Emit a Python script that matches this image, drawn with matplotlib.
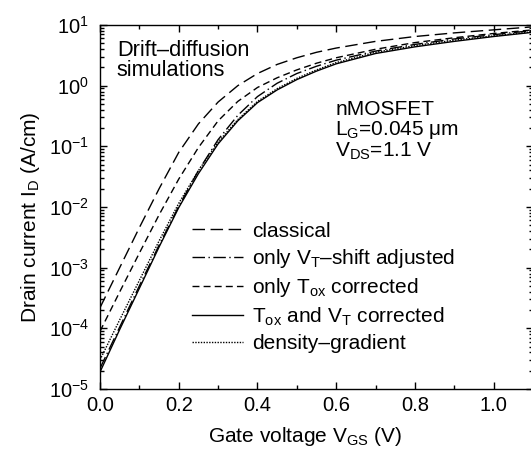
import numpy as np
import matplotlib
matplotlib.use('Agg')
import matplotlib.pyplot as plt

plt.rcParams['font.family'] = ['Liberation Sans', 'DejaVu Sans']
plt.rcParams['mathtext.fontset'] = 'custom'
plt.rcParams['mathtext.rm'] = 'Liberation Sans'
plt.rcParams['mathtext.it'] = 'Liberation Sans:italic'
plt.rcParams['mathtext.default'] = 'regular'

# gate voltage (V)
vgs = [0.0, 0.05, 0.1, 0.15, 0.2, 0.25, 0.3, 0.35, 0.4, 0.45, 0.5, 0.55, 0.6, 0.7, 0.8, 0.9, 1.0, 1.1]
# log10 of drain current (A/cm)
log_classical = [-3.66, -3.00, -2.34, -1.70, -1.10, -0.63, -0.27, 0.00, 0.20, 0.35, 0.46, 0.55, 0.62, 0.73, 0.81, 0.87, 0.92, 0.97]
log_vt_only = [-4.66, -3.98, -3.30, -2.63, -1.99, -1.40, -0.89, -0.49, -0.18, 0.04, 0.20, 0.32, 0.42, 0.57, 0.68, 0.77, 0.84, 0.91]
log_tox_only = [-4.05, -3.40, -2.76, -2.13, -1.54, -1.02, -0.58, -0.26, -0.03, 0.13, 0.26, 0.37, 0.46, 0.60, 0.71, 0.79, 0.86, 0.92]
log_tox_vt = [-4.72, -4.02, -3.34, -2.66, -2.01, -1.45, -0.96, -0.58, -0.28, -0.07, 0.10, 0.24, 0.36, 0.53, 0.64, 0.73, 0.81, 0.88]
log_dg = [-4.52, -3.86, -3.21, -2.56, -1.94, -1.40, -0.93, -0.56, -0.26, -0.05, 0.12, 0.26, 0.38, 0.55, 0.66, 0.75, 0.82, 0.89]

labels = ['classical', 'only V$_{\\mathregular{T}}$\u2013shift adjusted', 'only T$_{\\mathregular{ox}}$ corrected',
          'T$_{\\mathregular{ox}}$ and V$_{\\mathregular{T}}$ corrected', 'density\u2013gradient']

fig = plt.figure(figsize=(5.31, 4.49), dpi=100)
ax = fig.add_axes([100/531, 1 - 389/449, 433/531, 364/449])

styles = [(0, (9, 4)), (0, (9, 2.5, 1, 2.5)), (0, (5, 3)), '-', (0, (1, 1))]
series = [log_classical, log_vt_only, log_tox_only, log_tox_vt, log_dg]
for lg, ls, lab in zip(series, styles, labels):
    ax.plot(vgs, 10 ** np.array(lg), color='black', lw=1.0, linestyle=ls, label=lab)

ax.set_yscale('log')
ax.set_xlim(0, 1.1)
ax.set_ylim(1e-5, 10)
ax.set_xticks([0.0, 0.2, 0.4, 0.6, 0.8, 1.0])
ax.set_xticks(np.arange(0.1, 1.1, 0.2), minor=True)
ax.set_xticklabels(['0.0', '0.2', '0.4', '0.6', '0.8', '1.0'])
ax.tick_params(which='both', direction='in', top=True, right=True, labelsize=14.5, width=1)
ax.tick_params(which='major', length=5)
ax.tick_params(which='minor', length=3)
ax.tick_params(axis='x', pad=5)
ax.tick_params(axis='y', pad=8)
for s in ax.spines.values():
    s.set_linewidth(1.0)

fig.text(305/531, 1 - 437/449, 'Gate voltage V$_{\\mathregular{GS}}$ (V)', fontsize=15,
         ha='center', va='center')
fig.text(31/531, 1 - 217/449, 'Drain current I$_{\\mathregular{D}}$ (A/cm)', fontsize=15,
         ha='center', va='center', rotation=90)

ax.text(0.039, 0.96, 'Drift\u2013diffusion\nsimulations', transform=ax.transAxes,
        fontsize=15.7, va='top', ha='left', linespacing=0.95)
ax.text(0.543, 0.795, 'nMOSFET\nL$_{\\mathregular{G}}$=0.045 \u03bcm\nV$_{\\mathregular{DS}}$=1.1 V',
        transform=ax.transAxes, fontsize=15, va='top', ha='left', linespacing=1.0)

ax.legend(loc='upper left', bbox_to_anchor=(0.212, 0.46), frameon=False, fontsize=15,
          handlelength=2.45, handletextpad=0.43, labelspacing=0.3, borderaxespad=0, borderpad=0)

fig.savefig('out.png', dpi=100)
